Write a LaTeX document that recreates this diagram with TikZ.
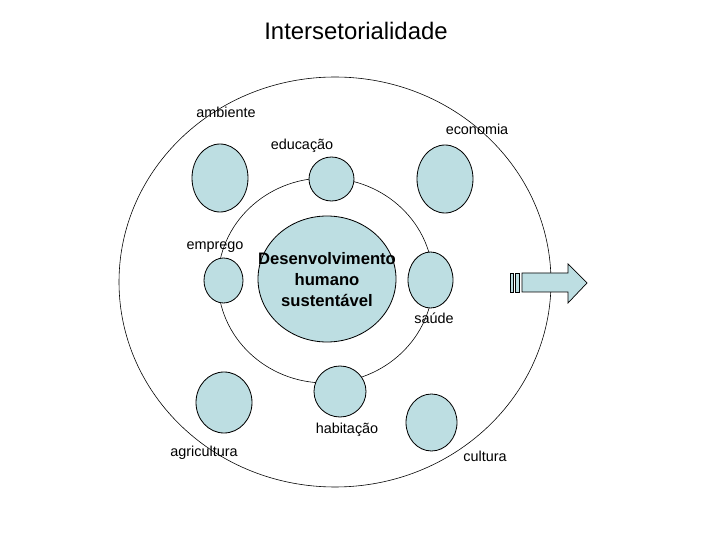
\documentclass[tikz,border=0pt]{standalone}
\usepackage{fontspec}
\setmainfont{Liberation Sans}
\begin{document}
\begin{tikzpicture}[x=0.03cm,y=-0.03cm,
        ring/.style={line width=0.5pt},
        disc/.style={fill=discblue, draw=black, line width=0.7pt},
        lbl/.style={font=\fontsize{12.3}{14}\selectfont, inner sep=0pt}]
        \definecolor{discblue}{RGB}{189,222,226}
        \useasboundingbox (0,0) rectangle (720,540);

        \node[font=\fontsize{20.4}{24}\selectfont, inner sep=0pt] (title) at (356,31) {Intersetorialidade};

        % rings
        \draw[ring] (335,282) ellipse (216 and 205);
        \draw[ring] (325.5,280.5) ellipse (107.5 and 102.5);

        % centre
        \draw[disc] (327,279) ellipse (69 and 63);
        \node[align=center, font=\bfseries\fontsize{14.2}{17.9}\selectfont, inner sep=0pt] (centre) at (327,280)
            {Desenvolvimento\\humano\\sustentável};

        % sectors
        \draw[disc] (220,178) ellipse (28 and 34);
        \draw[disc] (331.5,179) ellipse (22.5 and 22);
        \draw[disc] (445,179) ellipse (28 and 34);
        \draw[disc] (223.5,280.5) ellipse (19.5 and 22.5);
        \draw[disc] (430.5,280) ellipse (22.5 and 28);
        \draw[disc] (224,402.5) ellipse (28 and 30.5);
        \draw[disc] (340,391.5) ellipse (26 and 25.5);
        \draw[disc] (431.5,422.5) ellipse (25.5 and 28.5);

        \node[lbl] (ambiente) at (226,112) {ambiente};
        \node[lbl] (economia) at (477,129) {economia};
        \node[lbl] (educacao) at (302,146) {educação};
        \node[lbl] (emprego) at (215,247) {emprego};
        \node[lbl] (saude) at (434,318) {saúde};
        \node[lbl] (habitacao) at (347,430) {habitação};
        \node[lbl] (agricultura) at (204,453) {agricultura};
        \node[lbl] (cultura) at (485,456) {cultura};

        % arrow
        \draw[disc, line width=0.6pt] (510,273) rectangle (513.3,292);
        \draw[disc, line width=0.6pt] (515,273) rectangle (519.3,292);
        \draw[disc, line width=0.6pt] (522,273) -- (568,273) -- (568,264) -- (587,283) -- (568,303) -- (568,292) -- (522,292) -- cycle;
\end{tikzpicture}
\end{document}
